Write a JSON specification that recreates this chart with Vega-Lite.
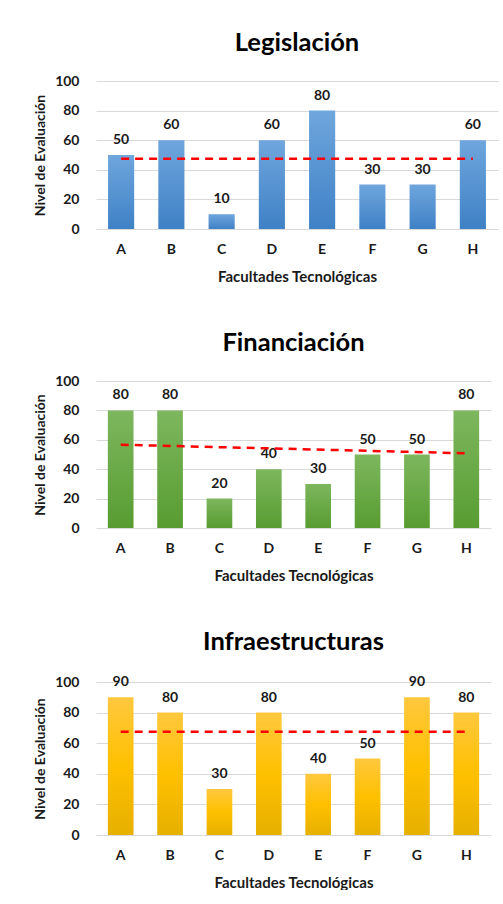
{
  "$schema": "https://vega.github.io/schema/vega-lite/v6.json",
  "background": "white",
  "padding": {"left": 33, "top": 30, "right": 4, "bottom": 0},
  "data": {"values": [
    {"factor": "Legislación", "facultad": "A", "valor": 50},
    {"factor": "Legislación", "facultad": "B", "valor": 60},
    {"factor": "Legislación", "facultad": "C", "valor": 10},
    {"factor": "Legislación", "facultad": "D", "valor": 60},
    {"factor": "Legislación", "facultad": "E", "valor": 80},
    {"factor": "Legislación", "facultad": "F", "valor": 30},
    {"factor": "Legislación", "facultad": "G", "valor": 30},
    {"factor": "Legislación", "facultad": "H", "valor": 60},
    {"factor": "Financiación", "facultad": "A", "valor": 80},
    {"factor": "Financiación", "facultad": "B", "valor": 80},
    {"factor": "Financiación", "facultad": "C", "valor": 20},
    {"factor": "Financiación", "facultad": "D", "valor": 40},
    {"factor": "Financiación", "facultad": "E", "valor": 30},
    {"factor": "Financiación", "facultad": "F", "valor": 50},
    {"factor": "Financiación", "facultad": "G", "valor": 50},
    {"factor": "Financiación", "facultad": "H", "valor": 80},
    {"factor": "Infraestructuras", "facultad": "A", "valor": 90},
    {"factor": "Infraestructuras", "facultad": "B", "valor": 80},
    {"factor": "Infraestructuras", "facultad": "C", "valor": 30},
    {"factor": "Infraestructuras", "facultad": "D", "valor": 80},
    {"factor": "Infraestructuras", "facultad": "E", "valor": 40},
    {"factor": "Infraestructuras", "facultad": "F", "valor": 50},
    {"factor": "Infraestructuras", "facultad": "G", "valor": 90},
    {"factor": "Infraestructuras", "facultad": "H", "valor": 80}
  ]},
  "config": {
    "font": "Lato",
    "view": {"stroke": null},
    "title": {"fontSize": 25.5, "fontWeight": "bold", "color": "#000000", "offset": 18},
    "axis": {
      "domain": false, "ticks": false,
      "gridColor": "#d9d9d9", "gridWidth": 1,
      "labelFont": "Lato", "labelFontSize": 14, "labelFontWeight": "bold", "labelColor": "#1a1a1a",
      "titleFont": "Lato", "titleFontWeight": "bold", "titleColor": "#1a1a1a"
    },
    "axisX": {"grid": false, "labelPadding": 13, "labelAngle": 0, "titlePadding": 13, "titleFontSize": 15},
    "axisY": {"labelPadding": 17, "titlePadding": 7, "labelOverlap": false, "titleFontSize": 14},
    "concat": {"spacing": 46}
  },
  "vconcat": [
    {
      "title": "Legislación",
      "width": 402, "height": 148,
      "transform": [{"filter": "datum.factor === 'Legislación'"}],
      "encoding": {
        "y": {"field": "valor", "type": "quantitative", "scale": {"domain": [0, 100]}, "axis": {"values": [0, 20, 40, 60, 80, 100], "title": "Nivel de Evaluación"}}
      },
      "layer": [
        {
          "encoding": {
            "x": {"field": "facultad", "type": "nominal", "scale": {"paddingInner": 0.48, "paddingOuter": 0.24}, "axis": {"title": "Facultades Tecnológicas"}}
          },
          "layer": [
            {"mark": {"type": "bar", "color": {"gradient": "linear", "x1": 0, "y1": 0, "x2": 0, "y2": 1, "stops": [{"offset": 0, "color": "#6fa6dd"}, {"offset": 1, "color": "#3f81c6"}]}}},
            {
              "mark": {"type": "text", "baseline": "bottom", "dy": -8, "fontSize": 14, "fontWeight": "bold", "color": "#1a1a1a"},
              "encoding": {"text": {"field": "valor", "type": "quantitative"}}
            }
          ]
        },
        {
          "transform": [{"window": [{"op": "row_number", "as": "idx"}]}, {"regression": "valor", "on": "idx"}],
          "mark": {"type": "line", "color": "#ff0000", "strokeWidth": 2.5, "strokeDash": [8, 6]},
          "encoding": {
            "x": {"field": "idx", "type": "quantitative", "scale": {"domain": [0.5, 8.5], "nice": false, "zero": false}, "axis": null}
          }
        }
      ],
      "resolve": {"scale": {"x": "independent"}}
    },
    {
      "title": "Financiación",
      "width": 395, "height": 147,
      "transform": [{"filter": "datum.factor === 'Financiación'"}],
      "encoding": {
        "y": {"field": "valor", "type": "quantitative", "scale": {"domain": [0, 100]}, "axis": {"values": [0, 20, 40, 60, 80, 100], "title": "Nivel de Evaluación"}}
      },
      "layer": [
        {
          "encoding": {
            "x": {"field": "facultad", "type": "nominal", "scale": {"paddingInner": 0.48, "paddingOuter": 0.24}, "axis": {"title": "Facultades Tecnológicas"}}
          },
          "layer": [
            {"mark": {"type": "bar", "color": {"gradient": "linear", "x1": 0, "y1": 0, "x2": 0, "y2": 1, "stops": [{"offset": 0, "color": "#7db75e"}, {"offset": 1, "color": "#589c31"}]}}},
            {
              "mark": {"type": "text", "baseline": "bottom", "dy": -8, "fontSize": 14, "fontWeight": "bold", "color": "#1a1a1a"},
              "encoding": {"text": {"field": "valor", "type": "quantitative"}}
            }
          ]
        },
        {
          "transform": [{"window": [{"op": "row_number", "as": "idx"}]}, {"regression": "valor", "on": "idx"}],
          "mark": {"type": "line", "color": "#ff0000", "strokeWidth": 2.5, "strokeDash": [8, 6]},
          "encoding": {
            "x": {"field": "idx", "type": "quantitative", "scale": {"domain": [0.5, 8.5], "nice": false, "zero": false}, "axis": null}
          }
        }
      ],
      "resolve": {"scale": {"x": "independent"}}
    },
    {
      "title": {"text": "Infraestructuras", "offset": 20},
      "width": 395, "height": 153,
      "transform": [{"filter": "datum.factor === 'Infraestructuras'"}],
      "encoding": {
        "y": {"field": "valor", "type": "quantitative", "scale": {"domain": [0, 100]}, "axis": {"values": [0, 20, 40, 60, 80, 100], "title": "Nivel de Evaluación"}}
      },
      "layer": [
        {
          "encoding": {
            "x": {"field": "facultad", "type": "nominal", "scale": {"paddingInner": 0.48, "paddingOuter": 0.24}, "axis": {"title": "Facultades Tecnológicas"}}
          },
          "layer": [
            {"mark": {"type": "bar", "color": {"gradient": "linear", "x1": 0, "y1": 0, "x2": 0, "y2": 1, "stops": [{"offset": 0, "color": "#ffc83e"}, {"offset": 0.5, "color": "#ffc000"}, {"offset": 1, "color": "#e6b000"}]}}},
            {
              "mark": {"type": "text", "baseline": "bottom", "dy": -8, "fontSize": 14, "fontWeight": "bold", "color": "#1a1a1a"},
              "encoding": {"text": {"field": "valor", "type": "quantitative"}}
            }
          ]
        },
        {
          "transform": [{"window": [{"op": "row_number", "as": "idx"}]}, {"regression": "valor", "on": "idx"}],
          "mark": {"type": "line", "color": "#ff0000", "strokeWidth": 2.5, "strokeDash": [8, 6]},
          "encoding": {
            "x": {"field": "idx", "type": "quantitative", "scale": {"domain": [0.5, 8.5], "nice": false, "zero": false}, "axis": null}
          }
        }
      ],
      "resolve": {"scale": {"x": "independent"}}
    }
  ]
}
